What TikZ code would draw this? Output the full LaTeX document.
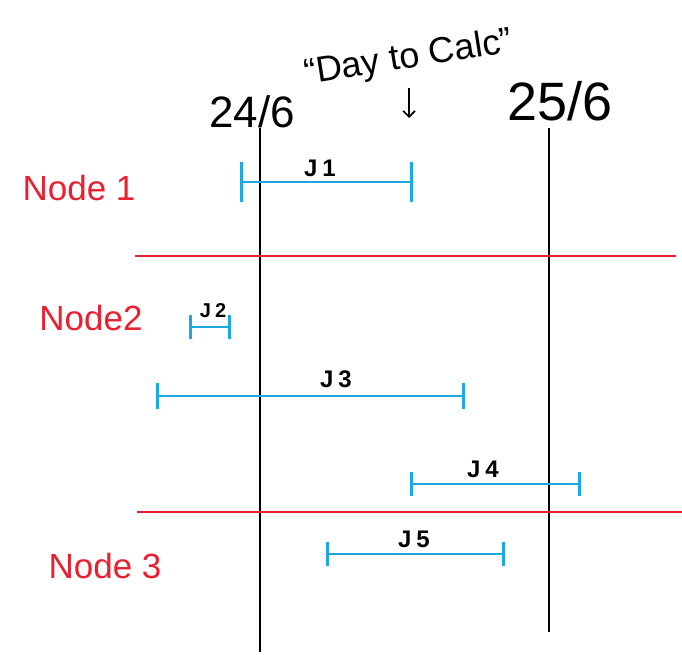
\documentclass[tikz,border=0pt]{standalone}
\usepackage{fontspec}
\setmainfont{Liberation Sans}
\usetikzlibrary{arrows.meta}
\definecolor{rowred}{RGB}{232,32,48}
\definecolor{jobblue}{RGB}{28,168,224}
\begin{document}
\begin{tikzpicture}[x=1pt,y=-1pt,
  dayline/.style={line width=1.8pt,black},
  rowsep/.style={line width=1.2pt,rowred},
  jobbar/.style={line width=2.6pt,jobblue,{Bar[width=#1]}-{Bar[width=#1]}},
  rowlabel/.style={anchor=base,text=rowred,inner sep=0pt,font=\fontsize{35}{35}\selectfont},
  datelabel/.style={anchor=base,inner sep=0pt,font=\fontsize{#1}{#1}\selectfont},
  joblabel/.style={anchor=base,inner sep=0pt,font=\bfseries\fontsize{24}{24}\selectfont}]
\useasboundingbox (0,0) rectangle (682,654);

% day boundaries
\node[datelabel=44] (d24) at (252,127) {24/6};
\node[datelabel=54] (d25) at (560,120) {25/6};
\coordinate (d24top) at (260,128);
\coordinate (d24bot) at (260,652);
\coordinate (d25top) at (549,128);
\coordinate (d25bot) at (549,632);
\draw[dayline] (d24top) -- (d24bot);
\draw[dayline] (d25top) -- (d25bot);

% the day being calculated
\node[anchor=base,inner sep=0pt,rotate=9,font=\fontsize{36}{36}\selectfont] (calc) at (410,68) {``Day to Calc''};
\coordinate (ptrtop) at (409,88);
\coordinate (ptrbot) at (409,118);
\draw[line width=1.6pt,-{Straight Barb[length=6pt,width=12pt]}] (ptrtop) -- (ptrbot);

% node rows
\node[rowlabel] (n1) at (79,200) {Node 1};
\node[rowlabel] (n2) at (91,330) {Node2};
\node[rowlabel] (n3) at (105,578) {Node 3};
\coordinate (s1a) at (135,256);
\coordinate (s1b) at (676,256);
\coordinate (s2a) at (137,512);
\coordinate (s2b) at (682,512);
\draw[rowsep] (s1a) -- (s1b);
\draw[rowsep] (s2a) -- (s2b);

% jobs
\coordinate (j1a) at (240,182); \coordinate (j1b) at (413,182);
\coordinate (j2a) at (189,327); \coordinate (j2b) at (231,327);
\coordinate (j3a) at (156,396); \coordinate (j3b) at (465,396);
\coordinate (j4a) at (410,484); \coordinate (j4b) at (581,484);
\coordinate (j5a) at (326,554); \coordinate (j5b) at (505,554);
\draw[jobbar=40pt] (j1a) -- (j1b);
\draw[jobbar=24pt] (j2a) -- (j2b);
\draw[jobbar=26pt] (j3a) -- (j3b);
\draw[jobbar=24pt] (j4a) -- (j4b);
\draw[jobbar=24pt] (j5a) -- (j5b);
\node[joblabel] (l1) at (320,176) {J\hspace{5pt}1};
\node[joblabel,font=\bfseries\fontsize{20}{20}\selectfont] (l2) at (213,317) {J\hspace{4pt}2};
\node[joblabel] (l3) at (336,387) {J\hspace{5pt}3};
\node[joblabel] (l4) at (483,477) {J\hspace{5pt}4};
\node[joblabel] (l5) at (414,547) {J\hspace{5pt}5};
\end{tikzpicture}
\end{document}
